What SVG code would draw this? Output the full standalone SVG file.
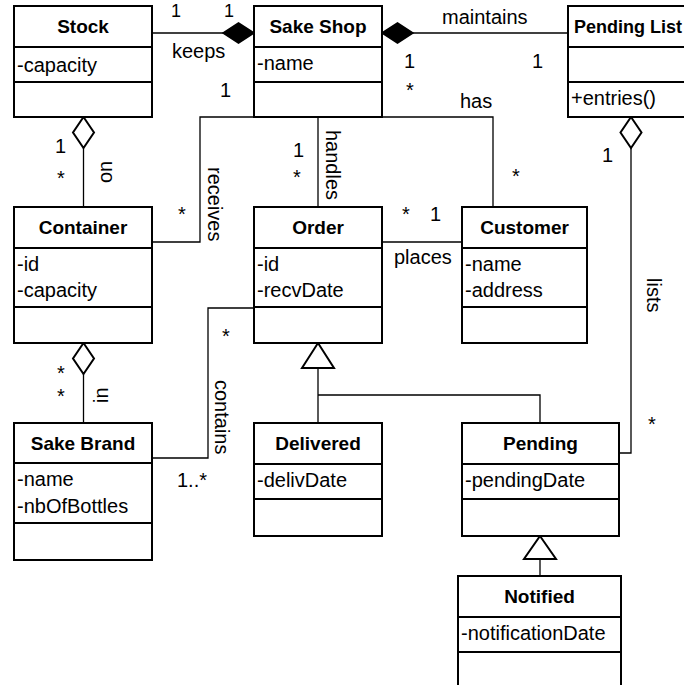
<svg xmlns="http://www.w3.org/2000/svg" width="684" height="685" viewBox="0 0 684 685">
<style>
.box{fill:#fff;stroke:#000;stroke-width:2}
.sep{stroke:#000;stroke-width:2}
.hd{font-family:"Liberation Sans",Arial,sans-serif;font-size:19px;font-weight:bold;text-anchor:middle;fill:#000}
.at{font-family:"Liberation Sans",Arial,sans-serif;font-size:20px;fill:#000}
.lb{font-family:"Liberation Sans",Arial,sans-serif;font-size:20px;fill:#000}
.cn{fill:none;stroke:#000;stroke-width:1.3}
.fd{fill:#000;stroke:#000;stroke-width:1.5}
.hl{fill:#fff;stroke:#000;stroke-width:2}
</style>
<rect width="684" height="685" fill="#fff"/>
<g id="connectors">
  <polyline class="cn" points="152,33 223,33"/>
  <polyline class="cn" points="413,33 568,33"/>
  <polyline class="cn" points="83.5,148 83.5,207"/>
  <polyline class="cn" points="254,117 200,117 200,242 152,242"/>
  <polyline class="cn" points="382,117 493,117 493,207"/>
  <polyline class="cn" points="318,117 318,207"/>
  <polyline class="cn" points="382,242 462,242"/>
  <polyline class="cn" points="254,308 208,308 208,458 152,458"/>
  <polyline class="cn" points="83.5,374 83.5,423"/>
  <polyline class="cn" points="631,148 631,453 619,453"/>
  <polyline class="cn" points="318,368 318,423"/>
  <polyline class="cn" points="318,395 540,395 540,423"/>
  <polyline class="cn" points="540,559 540,576"/>
  <polygon class="fd" points="254,33 238.5,23 223,33 238.5,43"/>
  <polygon class="fd" points="382,33 397.5,23 413,33 397.5,43"/>
  <polygon class="hl" points="83.5,117 94,132.5 83.5,148 73,132.5"/>
  <polygon class="hl" points="631,117 641.5,132.5 631,148 620.5,132.5"/>
  <polygon class="hl" points="83.5,343 94,358.5 83.5,374 73,358.5"/>
  <polygon class="hl" points="318,343 334,368 302,368"/>
  <polygon class="hl" points="540,536 556,559 524,559"/>
  <g class="lb">
    <text x="171" y="17" style="font-size:18px">1</text>
    <text x="224" y="17" style="font-size:18px">1</text>
    <text x="172" y="58">keeps</text>
    <text x="220" y="97">1</text>
    <text x="442" y="24">maintains</text>
    <text x="404" y="68">1</text>
    <text x="406" y="97">*</text>
    <text x="532" y="68">1</text>
    <text x="460" y="108">has</text>
    <text x="512" y="183">*</text>
    <text x="602" y="162">1</text>
    <text x="55" y="153">1</text>
    <text x="57" y="185">*</text>
    <text transform="translate(112,183) rotate(-90)">on</text>
    <text transform="translate(208,167) rotate(90)">receives</text>
    <text x="178" y="221">*</text>
    <text x="293" y="157">1</text>
    <text x="293" y="184">*</text>
    <text transform="translate(326,130) rotate(90)">handles</text>
    <text x="402" y="221">*</text>
    <text x="430" y="221">1</text>
    <text x="394" y="264">places</text>
    <text x="57" y="380">*</text>
    <text x="57" y="403">*</text>
    <text transform="translate(108,403) rotate(-90)">in</text>
    <text x="222" y="343">*</text>
    <text transform="translate(215,380) rotate(90)">contains</text>
    <text x="177" y="487">1..*</text>
    <text transform="translate(647,278) rotate(90)">lists</text>
    <text x="648" y="431">*</text>
  </g>
</g>
<g id="stock">
  <rect class="box" x="14" y="6" width="138" height="111"/>
  <line class="sep" x1="14" y1="47" x2="152" y2="47"/>
  <line class="sep" x1="14" y1="82" x2="152" y2="82"/>
  <text class="hd" x="83" y="33">Stock</text>
  <text class="at" x="17" y="72">-capacity</text>
</g>
<g id="sake-shop">
  <rect class="box" x="254" y="6" width="128" height="111"/>
  <line class="sep" x1="254" y1="47" x2="382" y2="47"/>
  <line class="sep" x1="254" y1="82" x2="382" y2="82"/>
  <text class="hd" x="318" y="33">Sake Shop</text>
  <text class="at" x="257" y="70">-name</text>
</g>
<g id="pending-list">
  <rect class="box" x="568" y="6" width="130" height="111"/>
  <line class="sep" x1="568" y1="47" x2="698" y2="47"/>
  <line class="sep" x1="568" y1="82" x2="698" y2="82"/>
  <text class="hd" x="574" y="33" style="text-anchor:start;font-size:18px">Pending List</text>
  <text class="at" x="571" y="105">+entries()</text>
</g>
<g id="container">
  <rect class="box" x="14" y="207" width="138" height="136"/>
  <line class="sep" x1="14" y1="248" x2="152" y2="248"/>
  <line class="sep" x1="14" y1="307" x2="152" y2="307"/>
  <text class="hd" x="83" y="234">Container</text>
  <text class="at" x="17" y="271">-id</text>
  <text class="at" x="17" y="297">-capacity</text>
</g>
<g id="order">
  <rect class="box" x="254" y="207" width="128" height="136"/>
  <line class="sep" x1="254" y1="248" x2="382" y2="248"/>
  <line class="sep" x1="254" y1="307" x2="382" y2="307"/>
  <text class="hd" x="318" y="234">Order</text>
  <text class="at" x="257" y="271">-id</text>
  <text class="at" x="257" y="297">-recvDate</text>
</g>
<g id="customer">
  <rect class="box" x="462" y="207" width="125" height="136"/>
  <line class="sep" x1="462" y1="248" x2="587" y2="248"/>
  <line class="sep" x1="462" y1="307" x2="587" y2="307"/>
  <text class="hd" x="524.5" y="234">Customer</text>
  <text class="at" x="465" y="271">-name</text>
  <text class="at" x="465" y="297">-address</text>
</g>
<g id="sake-brand">
  <rect class="box" x="14" y="423" width="138" height="137"/>
  <line class="sep" x1="14" y1="463" x2="152" y2="463"/>
  <line class="sep" x1="14" y1="523" x2="152" y2="523"/>
  <text class="hd" x="83" y="450">Sake Brand</text>
  <text class="at" x="17" y="486">-name</text>
  <text class="at" x="17" y="513">-nbOfBottles</text>
</g>
<g id="delivered">
  <rect class="box" x="254" y="423" width="128" height="113"/>
  <line class="sep" x1="254" y1="464" x2="382" y2="464"/>
  <line class="sep" x1="254" y1="499" x2="382" y2="499"/>
  <text class="hd" x="318" y="450">Delivered</text>
  <text class="at" x="257" y="487">-delivDate</text>
</g>
<g id="pending">
  <rect class="box" x="462" y="423" width="157" height="113"/>
  <line class="sep" x1="462" y1="464" x2="619" y2="464"/>
  <line class="sep" x1="462" y1="499" x2="619" y2="499"/>
  <text class="hd" x="540.5" y="450">Pending</text>
  <text class="at" x="465" y="487">-pendingDate</text>
</g>
<g id="notified">
  <rect class="box" x="458" y="576" width="163" height="120"/>
  <line class="sep" x1="458" y1="617" x2="621" y2="617"/>
  <line class="sep" x1="458" y1="652" x2="621" y2="652"/>
  <text class="hd" x="539.5" y="603">Notified</text>
  <text class="at" x="461" y="640">-notificationDate</text>
</g>
</svg>
